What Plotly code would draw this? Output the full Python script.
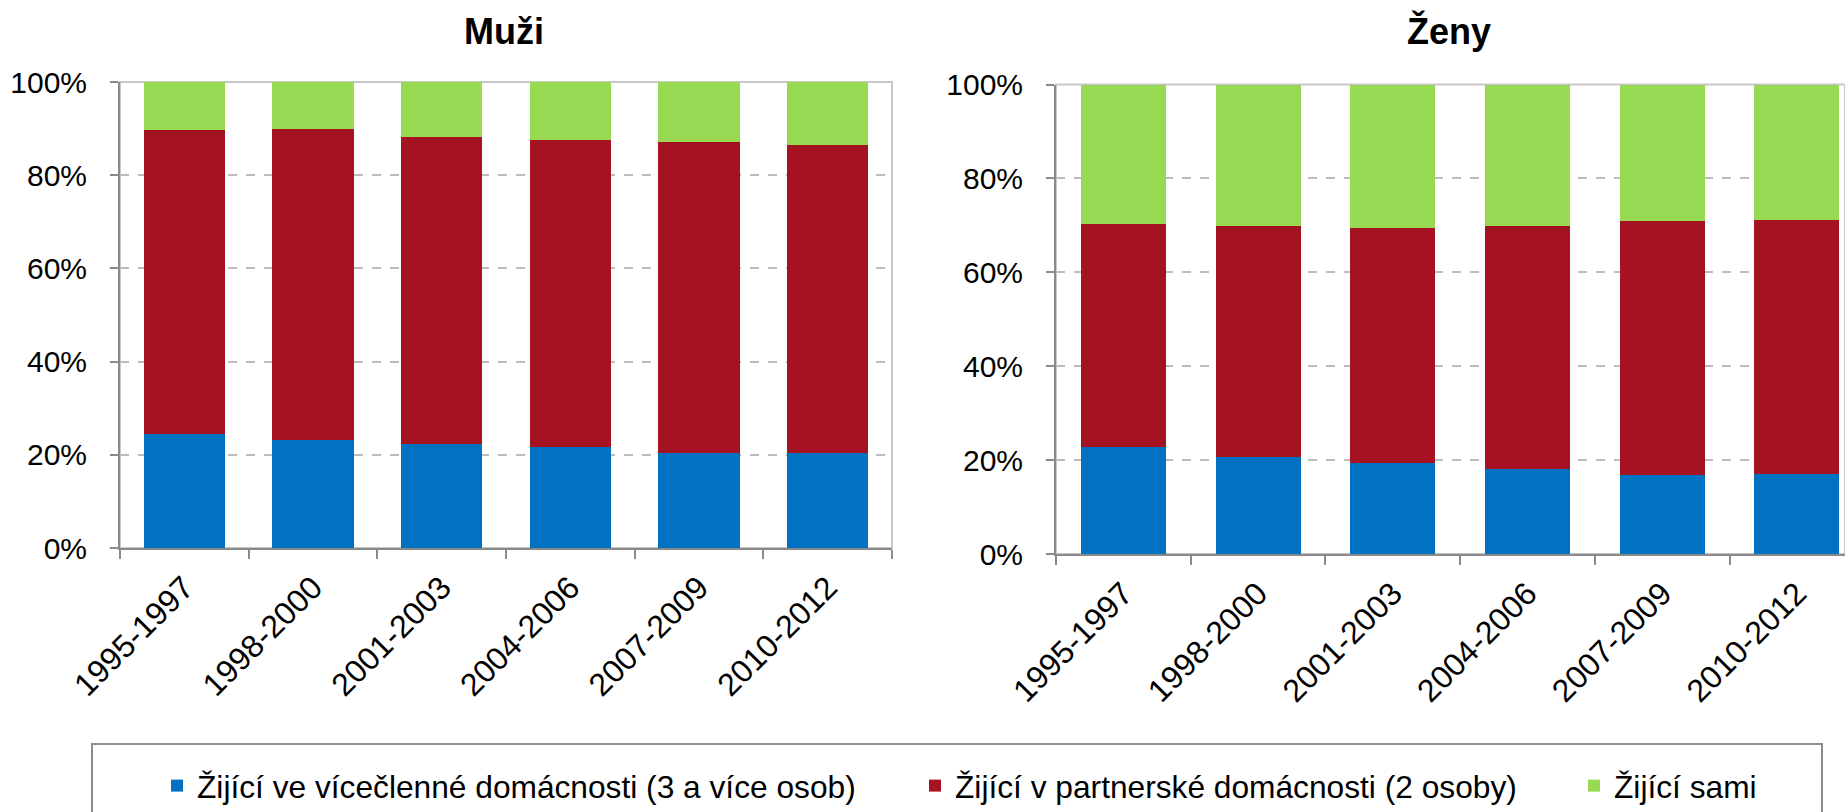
import plotly.graph_objects as go

W, H = 1845, 812

categories = ["1995-1997", "1998-2000", "2001-2003", "2004-2006", "2007-2009", "2010-2012"]
series_names = [
    "Žijící ve vícečlenné domácnosti (3 a více osob)",
    "Žijící v partnerské domácnosti (2 osoby)",
    "Žijící sami",
]
# Muži (percent shares)
men_multi = [24.4, 23.1, 22.4, 21.7, 20.3, 20.3]
men_partner = [65.3, 66.9, 65.8, 65.9, 66.8, 66.2]
men_alone = [10.3, 10.0, 11.8, 12.4, 12.9, 13.5]
# Ženy (percent shares)
women_multi = [22.8, 20.7, 19.4, 18.2, 16.9, 17.0]
women_partner = [47.5, 49.2, 50.1, 51.7, 54.0, 54.1]
women_alone = [29.7, 30.1, 30.5, 30.1, 29.1, 28.9]

colors = ["#0072C1", "#A51323", "#98D954"]
FONT = "Arial, Liberation Sans, sans-serif"

def px(x):
    return x / W

def py(y):
    return 1 - y / H

fig = go.Figure()

men = [men_multi, men_partner, men_alone]
women = [women_multi, women_partner, women_alone]
legends = ["legend", "legend2", "legend3"]

for i in range(3):
    fig.add_trace(go.Bar(x=categories, y=men[i], name=series_names[i],
                         marker=dict(color=colors[i], line=dict(width=0)),
                         xaxis="x", yaxis="y", legend=legends[i], showlegend=True))
for i in range(3):
    fig.add_trace(go.Bar(x=categories, y=women[i], name=series_names[i],
                         marker=dict(color=colors[i], line=dict(width=0)),
                         xaxis="x2", yaxis="y2", showlegend=False))

axis_line = "#8A8A8A"
grid = "#BDBDBD"

common_x = dict(type="category", tickangle=-45, ticks="outside", ticklen=9, tickwidth=2,
                tickcolor=axis_line, showline=True, linecolor=axis_line, linewidth=2,
                tickson="boundaries", showgrid=False, automargin=False,
                tickfont=dict(family=FONT, size=32, color="#000"), ticklabelstandoff=6)
common_y = dict(range=[0, 100], dtick=20, ticksuffix="%", ticks="outside", ticklen=8,
                tickwidth=2, tickcolor=axis_line, showline=True, linecolor=axis_line,
                linewidth=2, showgrid=True, gridcolor=grid, gridwidth=2, griddash="dash",
                zeroline=False, automargin=False,
                tickfont=dict(family=FONT, size=30, color="#000"),
                ticklabelstandoff=17)

fig.update_layout(
    width=W, height=H,
    margin=dict(l=0, r=0, t=0, b=0, autoexpand=False),
    paper_bgcolor="white", plot_bgcolor="white",
    barmode="stack", bargap=0.37,
    xaxis=dict(domain=[px(120), px(892)], anchor="y", range=[-0.5, 5.5], **common_x),
    yaxis=dict(domain=[py(548), py(82)], anchor="x", **common_y),
    xaxis2=dict(domain=[px(1056), 1.0], anchor="y2", range=[-0.5, 5.357], **common_x),
    yaxis2=dict(domain=[py(554), py(84.5)], anchor="x2", **common_y),
    font=dict(family=FONT, color="#000"),
)

leg_common = dict(orientation="h", xanchor="left", yanchor="middle", y=py(786),
                  bgcolor="rgba(0,0,0,0)", borderwidth=0,
                  font=dict(family=FONT, size=31.7, color="#000"))
fig.update_layout(
    legend=dict(x=px(157), **leg_common),
    legend2=dict(x=px(915), **leg_common),
    legend3=dict(x=px(1574), **leg_common),
)

# plot area borders (light)
for xr, yr in [("x domain", "y domain"), ("x2 domain", "y2 domain")]:
    fig.add_shape(type="rect", xref=xr, yref=yr, x0=0, x1=1, y0=0, y1=1,
                  line=dict(color="#C8C8C8", width=2), layer="below")

# legend box
fig.add_shape(type="rect", xref="paper", yref="paper", x0=px(92), x1=px(1822),
              y0=-0.05, y1=py(744), line=dict(color="#8C8C8C", width=2), layer="below")

fig.add_annotation(text="<b>Muži</b>", xref="paper", yref="paper", x=px(504), y=py(31),
                   xanchor="center", yanchor="middle", showarrow=False,
                   font=dict(family=FONT, size=36, color="#000"))
fig.add_annotation(text="<b>Ženy</b>", xref="paper", yref="paper", x=px(1449), y=py(31),
                   xanchor="center", yanchor="middle", showarrow=False,
                   font=dict(family=FONT, size=36, color="#000"))

fig.write_html("out.html", config={"displayModeBar": False},
               post_script="document.body.style.margin='0';document.body.style.overflow='hidden';")
